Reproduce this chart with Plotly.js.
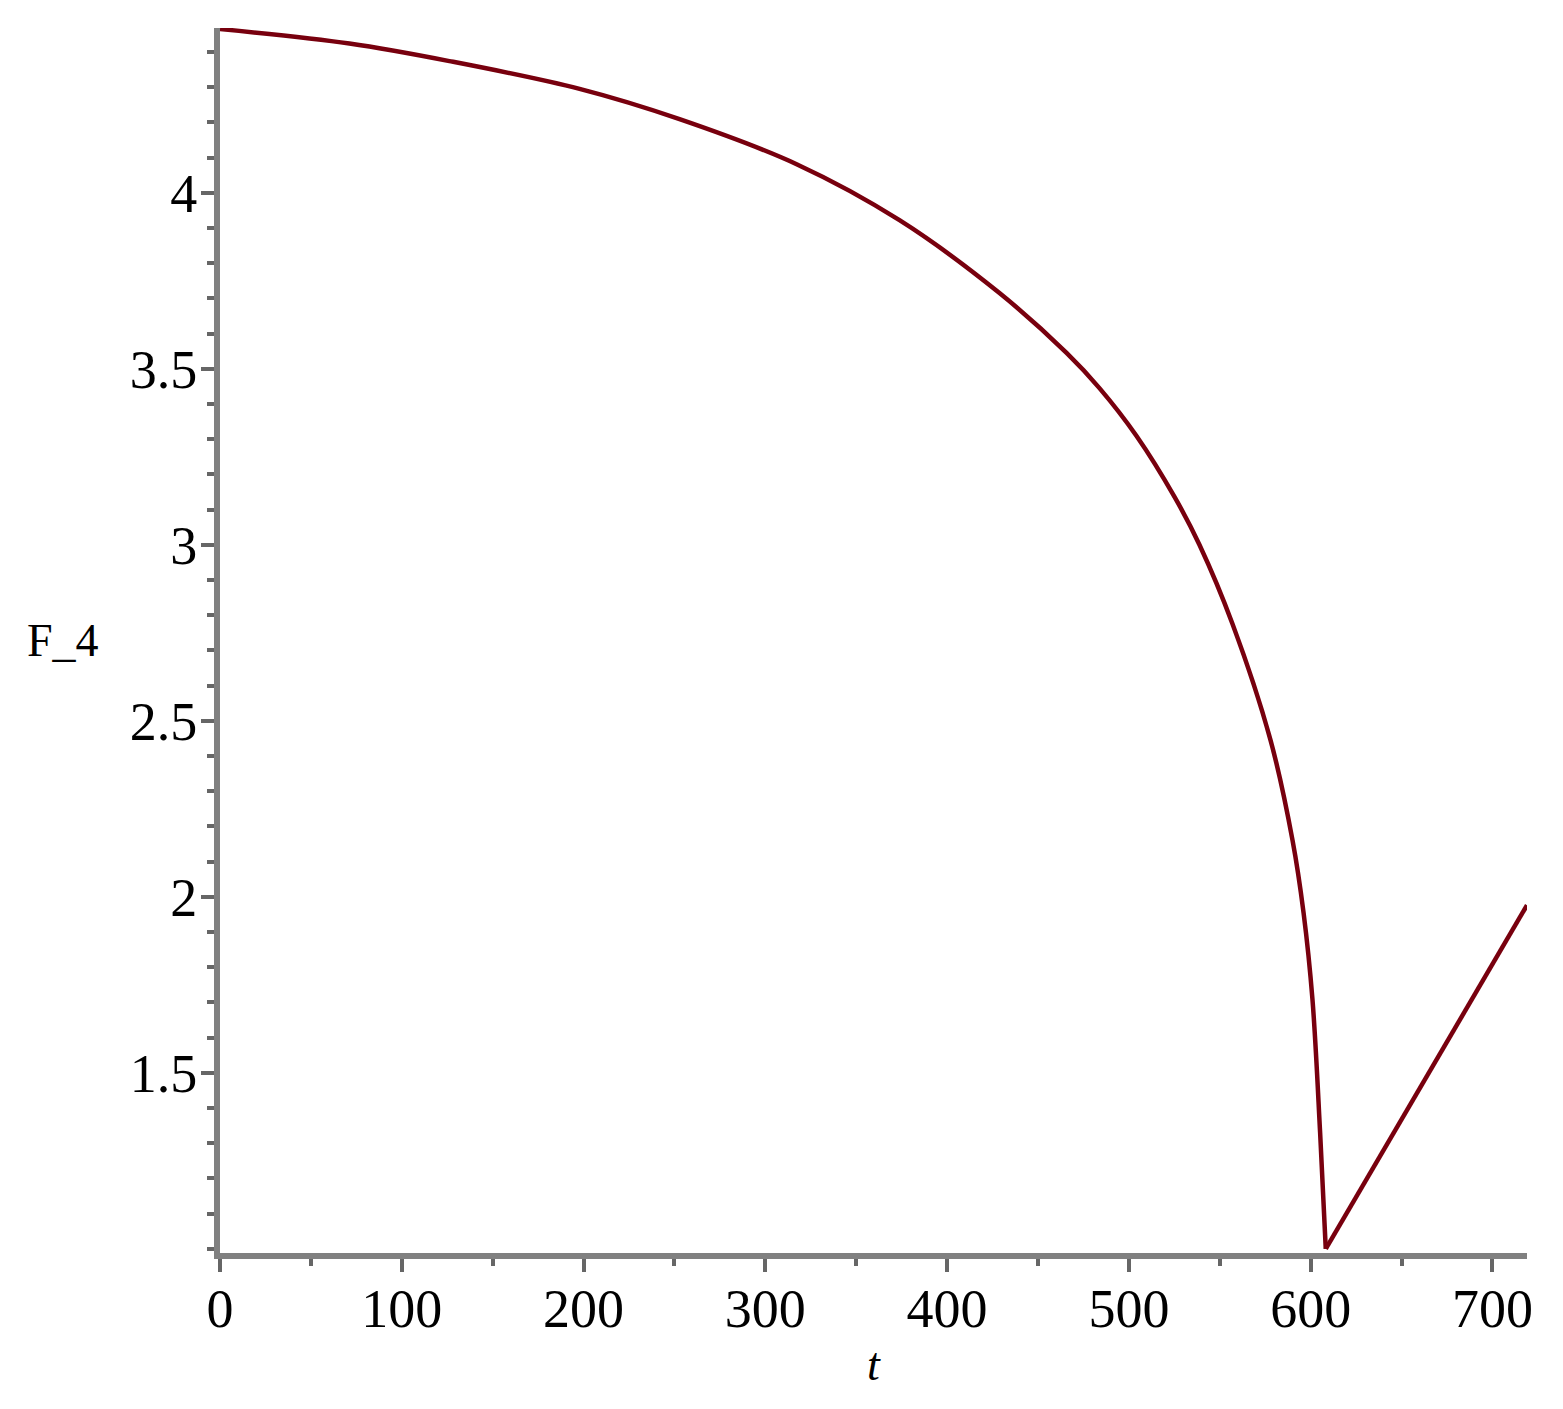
<!DOCTYPE html>
<html>
<head>
<meta charset="utf-8">
<script src="https://cdn.plot.ly/plotly-3.0.1.min.js"></script>
<style>html,body{margin:0;padding:0;background:#fff;}</style>
</head>
<body>
<div id="chart" style="width:1563px;height:1409px;"></div>
<script>
// Decaying branch of F_4(t)
var tCurve = [0, 71.2, 126.2, 197.8, 252.8, 317.2, 373.8, 428.8, 465.7, 483.8, 504.2, 525.1, 538.8, 557.0, 577.9, 590.0, 596.1, 601.0, 605.2, 608.3];
var fCurve = [4.465, 4.424, 4.374, 4.295, 4.209, 4.081, 3.922, 3.715, 3.545, 3.445, 3.309, 3.136, 3.000, 2.775, 2.445, 2.161, 1.954, 1.707, 1.329, 1.000];
// Rising branch after the minimum
var tRise = [608.3, 719];
var fRise = [1.000, 1.976];

var yTickVals = [1.5, 2, 2.5, 3, 3.5, 4];
var yTickText = ["1.5", "2", "2.5", "3", "3.5", "4"];
var xTickVals = [0, 100, 200, 300, 400, 500, 600, 700];
var xTickText = ["0", "100", "200", "300", "400", "500", "600", "700"];

var lineColor = "#78000E";
var serif = "Liberation Serif, Times New Roman, serif";

var traces = [
  {x: tCurve, y: fCurve, type: "scatter", mode: "lines",
   line: {color: lineColor, width: 4.5, shape: "spline", smoothing: 1},
   hoverinfo: "skip", showlegend: false},
  {x: tRise, y: fRise, type: "scatter", mode: "lines",
   line: {color: lineColor, width: 4.5},
   hoverinfo: "skip", showlegend: false}
];

var layout = {
  width: 1563, height: 1409,
  margin: {l: 220, r: 36, t: 28, b: 156, pad: 0},
  paper_bgcolor: "#ffffff", plot_bgcolor: "#ffffff",
  showlegend: false,
  font: {family: serif, color: "#000000", size: 54},
  xaxis: {
    range: [0, 719], showgrid: false, zeroline: false,
    showline: true, linecolor: "#808080", linewidth: 6,
    tickmode: "array", tickvals: xTickVals, ticktext: xTickText,
    ticks: "outside", ticklen: 13, tickwidth: 4, tickcolor: "#666666",
    ticklabelstandoff: -10,
    tickfont: {family: serif, size: 54, color: "#000000"},
    minor: {dtick: 50, tick0: 0, ticks: "outside", ticklen: 7, tickwidth: 4, tickcolor: "#666666", showgrid: false},
    fixedrange: true
  },
  yaxis: {
    range: [0.988, 4.468], showgrid: false, zeroline: false,
    showline: true, linecolor: "#808080", linewidth: 6,
    tickmode: "array", tickvals: yTickVals, ticktext: yTickText,
    ticks: "outside", ticklen: 13, tickwidth: 4, tickcolor: "#666666",
    ticklabelstandoff: -7,
    tickfont: {family: serif, size: 54, color: "#000000"},
    minor: {dtick: 0.1, tick0: 0, ticks: "outside", ticklen: 7, tickwidth: 4, tickcolor: "#666666", showgrid: false},
    fixedrange: true
  },
  annotations: [
    {text: "F_4", xref: "paper", yref: "paper", x: -0.1205, y: 0.5,
     xanchor: "center", yanchor: "middle", showarrow: false,
     font: {family: serif, size: 46, color: "#000000"}},
    {text: "<i>t</i>", xref: "paper", yref: "paper", x: 0.5, y: -0.0914,
     xanchor: "center", yanchor: "middle", showarrow: false,
     font: {family: serif, size: 46, color: "#000000"}}
  ]
};

Plotly.newPlot("chart", traces, layout, {displayModeBar: false, staticPlot: true});
</script>
</body>
</html>
